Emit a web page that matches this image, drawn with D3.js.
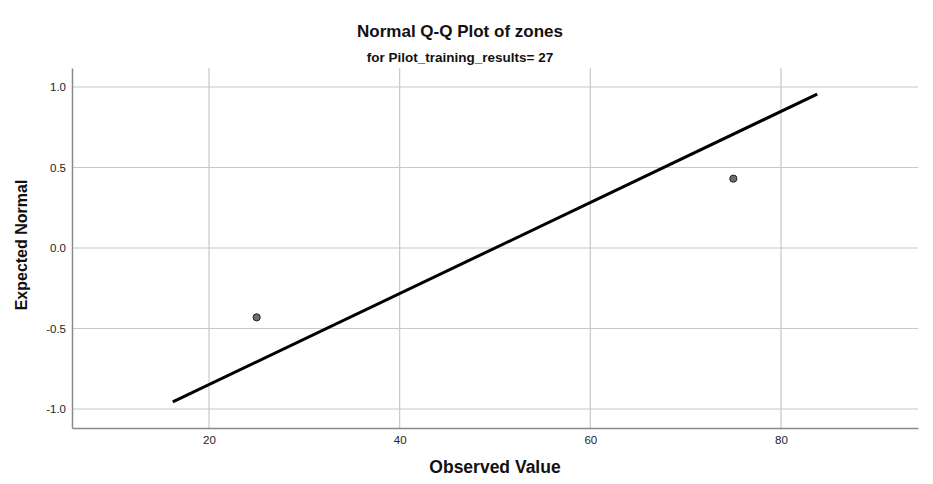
<!DOCTYPE html>
<html><head><meta charset="utf-8">
<script src="https://cdn.jsdelivr.net/npm/d3@7"></script>
<style>body{margin:0;background:#fff;} svg{display:block;font-family:Arial, "Liberation Sans", sans-serif;}</style>
</head><body>
<svg id="c" width="933" height="484"></svg>
<script>
const observed = [25, 75];
const expectedNormal = [-0.4307, 0.4307];
const lineX = [16.2, 83.8];
const lineY = [-0.956, 0.956];
const xTicks = [20, 40, 60, 80];
const yTicks = [-1.0, -0.5, 0.0, 0.5, 1.0];
const title = "Normal Q-Q Plot of zones";
const subtitle = "for Pilot_training_results= 27";

const svg = d3.select("#c");
const L = 72, R = 918, T = 68, B = 428;
const x = d3.scaleLinear().domain([5.63, 94.37]).range([L, R]);
const y = d3.scaleLinear().domain([-1.118, 1.118]).range([B, T]);

// grid
svg.append("g").selectAll("line").data(yTicks).join("line")
  .attr("x1", L).attr("x2", R).attr("y1", d => y(d)).attr("y2", d => y(d))
  .attr("stroke", "#c8c8c8").attr("stroke-width", 1.2);
svg.append("g").selectAll("line").data(xTicks).join("line")
  .attr("y1", T).attr("y2", B).attr("x1", d => x(d)).attr("x2", d => x(d))
  .attr("stroke", "#c8c8c8").attr("stroke-width", 1.2);

// axes
const xAxis = d3.axisBottom(x).tickValues(xTicks).tickSize(0).tickPadding(8).tickFormat(d3.format("d"));
const gx = svg.append("g").attr("transform", `translate(0,${B})`).call(xAxis);
const yAxis = d3.axisLeft(y).tickValues(yTicks).tickSize(0).tickPadding(6)
  .tickFormat(d => d3.format(".1f")(d).replace("\u2212", "-"));
const gy = svg.append("g").attr("transform", `translate(${L},0)`).call(yAxis);
[gx, gy].forEach(g => {
  g.select(".domain").attr("stroke", "#8a8a8a").attr("stroke-width", 1.5);
  g.selectAll("text").attr("font-size", 11.5).attr("fill", "#222").attr("font-family", "Arial, 'Liberation Sans', sans-serif");
});

// line
svg.append("line")
  .attr("x1", x(lineX[0])).attr("y1", y(lineY[0]))
  .attr("x2", x(lineX[1])).attr("y2", y(lineY[1]))
  .attr("stroke", "#000").attr("stroke-width", 3);

// points
svg.append("g").selectAll("circle").data(observed).join("circle")
  .attr("cx", d => x(d)).attr("cy", (d, i) => y(expectedNormal[i]))
  .attr("r", 3.6).attr("fill", "#6e6e6e").attr("stroke", "#222").attr("stroke-width", 1);

// titles
svg.append("text").attr("x", 460).attr("y", 37).attr("text-anchor", "middle")
  .attr("font-size", 17).attr("font-weight", "bold").attr("fill", "#111").text(title);
svg.append("text").attr("x", 460).attr("y", 62).attr("text-anchor", "middle")
  .attr("font-size", 13.5).attr("font-weight", "bold").attr("fill", "#111").text(subtitle);
svg.append("text").attr("x", 495).attr("y", 473).attr("text-anchor", "middle")
  .attr("font-size", 17.5).attr("font-weight", "bold").attr("fill", "#111").text("Observed Value");
svg.append("text").attr("transform", "translate(27,245) rotate(-90)").attr("text-anchor", "middle")
  .attr("font-size", 16).attr("font-weight", "bold").attr("fill", "#111").text("Expected Normal");
</script>
</body></html>
